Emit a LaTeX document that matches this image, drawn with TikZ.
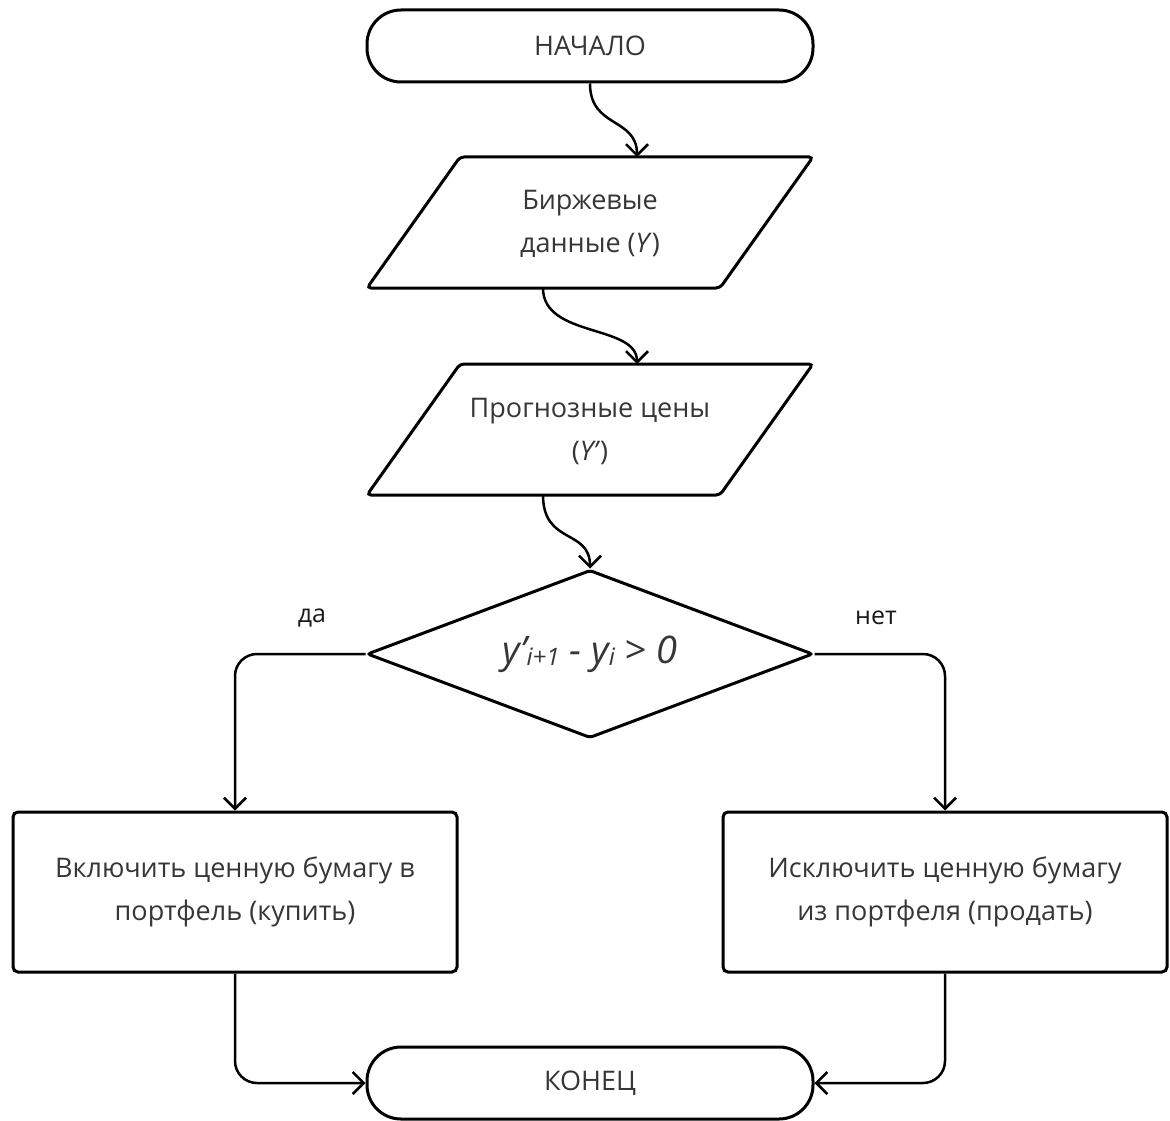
\documentclass[tikz,border=0pt]{standalone}
\usepackage{fontspec}
\setmainfont{Open Sans}
\usetikzlibrary{shapes.geometric,arrows.meta}
\definecolor{txt}{HTML}{363636}
\begin{document}
\begin{tikzpicture}[x=1pt,y=-1pt,
  every node/.style={font=\fontsize{27}{43}\selectfont, text=txt, align=center},
  shp/.style={draw=black, line width=3pt},
  term/.style={shp, rounded corners=34pt, minimum width=446pt, minimum height=72pt, inner sep=0pt},
  act/.style={shp, rounded corners=5pt, minimum width=444pt, minimum height=160pt, inner sep=0pt},
  dec/.style={shp, diamond, aspect=2.65, rounded corners=3pt, minimum width=446pt, minimum height=168pt, inner sep=0pt},
  conn/.style={draw=black, line width=2.5pt, -{Straight Barb[length=11pt,width=22pt]}},
  lbl/.style={font=\fontsize{25}{28}\selectfont, text=black!90}
]
\useasboundingbox (0,0) rectangle (1170,1121);

% terminals
\node[term] (start) at (590,46) {НАЧАЛО};
\node[term] (end) at (590,1083) {КОНЕЦ};

% parallelogram 1
\draw[shp, rounded corners=4pt] (460,157) -- (813,157) -- (720,288) -- (367,288) -- cycle;
\node (data) at (590,224) {Биржевые\\данные (\textit{Y})};
\coordinate (p1in) at (637,157);
\coordinate (p1out) at (543,288);

% parallelogram 2
\draw[shp, rounded corners=4pt] (460,364) -- (813,364) -- (720,495) -- (367,495) -- cycle;
\node (fore) at (590,431) {Прогнозные цены\\(\textit{Y’})};
\coordinate (p2in) at (637,364);
\coordinate (p2out) at (543,495);

% decision
\node[dec] (cond) at (590,654) {\fontsize{38}{40}\selectfont\itshape y’\raisebox{-2pt}{\fontsize{24}{26}\selectfont i+1} - y\raisebox{-2pt}{\fontsize{24}{26}\selectfont i} > 0};
\node[lbl] (yes) at (312,618) {да};
\node[lbl] (no) at (876,618) {нет};

% actions
\node[act] (buy) at (235,892) {Включить ценную бумагу в\\портфель (купить)};
\node[act] (sell) at (945,892) {Исключить ценную бумагу\\из портфеля (продать)};

% connectors
\draw[conn] (start.south) .. controls +(0,45) and +(0,-40) .. (p1in);
\draw[conn] (p1out) .. controls +(0,50) and +(0,-40) .. (p2in);
\draw[conn] (p2out) .. controls +(0,50) and +(0,-40) .. (cond.north);
\draw[conn, rounded corners=22pt] (cond.west) -| (buy.north);
\draw[conn, rounded corners=22pt] (cond.east) -| (sell.north);
\draw[conn, rounded corners=22pt] (buy.south) |- (end.west);
\draw[conn, rounded corners=22pt] (sell.south) |- (end.east);
\end{tikzpicture}
\end{document}
